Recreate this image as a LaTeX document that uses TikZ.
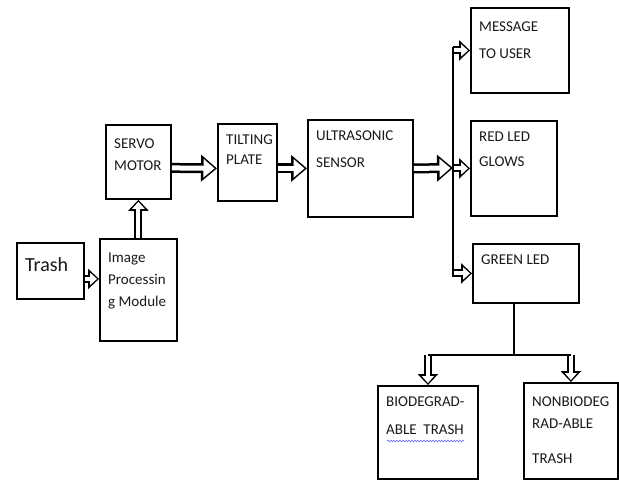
\documentclass[tikz,border=0pt]{standalone}
\usepackage{fontspec}
\setmainfont{Carlito}
\usetikzlibrary{arrows.meta,decorations.pathmorphing}
\begin{document}
\begin{tikzpicture}[x=1pt,y=-1pt,
  box/.style={draw,line width=1.8pt,anchor=north west,inner sep=0pt},
  lbl/.style={anchor=north west,align=left,inner sep=0pt,xshift=9pt,yshift=-12pt,
    font=\fontsize{15}{22}\selectfont,text=black!90},
  bigarrow/.style={white,line width=5pt,-{Triangle[length=11pt,width=18pt]},shorten >=2.5pt,
    preaction={draw=black,line width=10pt,-{Triangle[length=16pt,width=26pt]},shorten >=0pt}},
  smallarrow/.style={white,line width=4pt,-{Triangle[length=7pt,width=12pt]},shorten >=2pt,
    preaction={draw=black,line width=8pt,-{Triangle[length=11pt,width=20pt]},shorten >=0pt}}]
  \useasboundingbox (0,0) rectangle (619,480);
  \node[box,minimum width=67,minimum height=56,
    label={[lbl,font=\fontsize{20}{24}\selectfont,yshift=-3pt]north west:Trash}] (trash) at (16,242) {};
  \node[box,minimum width=77,minimum height=102,
    label={[lbl,yshift=-3pt]north west:{Image\\Processin\\g Module}}] (img) at (99,238) {};
  \node[box,minimum width=65,minimum height=74,
    label={[lbl,yshift=-3pt]north west:{SERVO\\MOTOR}}] (servo) at (105,124) {};
  \node[box,minimum width=59,minimum height=77,
    label={[lbl,font=\fontsize{15}{20}\selectfont]north west:{TILTING\\PLATE}}] (tilt) at (217,123) {};
  \node[box,minimum width=105,minimum height=97,
    label={[lbl,font=\fontsize{15}{27}\selectfont]north west:{ULTRASONIC\\SENSOR}}] (ultra) at (307,119) {};
  \node[box,minimum width=98,minimum height=85,
    label={[lbl,yshift=-3pt,font=\fontsize{15}{27}\selectfont]north west:{MESSAGE\\TO USER}}] (msg) at (470,7) {};
  \node[box,minimum width=86,minimum height=95,
    label={[lbl,font=\fontsize{15}{25}\selectfont]north west:{RED LED\\GLOWS}}] (red) at (470,120) {};
  \node[box,minimum width=106,minimum height=59,
    label={[lbl]north west:GREEN LED}] (green) at (472,243) {};
  \node[box,minimum width=100,minimum height=93,
    label={[lbl,font=\fontsize{15}{28}\selectfont]north west:{BIODEGRAD-\\ABLE\ \ TRASH}}] (bio) at (377,385) {};
  \node[box,minimum width=94,minimum height=96,
    label={[lbl,yshift=-3pt]north west:{NONBIODEG\\RAD-ABLE\\[13pt]TRASH}}] (nonbio) at (523,382) {};
  \draw[blue!60,line width=0.6pt,decorate,decoration={snake,amplitude=0.8pt,segment length=3pt}]
    (387,441) -- (464,441);
  \coordinate (jn) at (453,168);
  \coordinate (sp) at (514,355);
  \draw[smallarrow] ([yshift=-8pt]trash.east) -- ([yshift=-8pt]trash.east -| img.west);
  \draw[smallarrow] (img.north) -- (servo.south);
  \draw[bigarrow] ([yshift=-6pt]servo.east) -- ([yshift=-6pt]tilt.west);
  \draw[bigarrow] (tilt.east |- ultra.west) -- (ultra.west);
  \draw[bigarrow] (ultra.east) -- (jn);
  \foreach \b in {msg,red,green}
    \draw[smallarrow] (jn |- \b.west) -- (\b.west);
  \draw[line width=1.5pt] ([yshift=3pt]jn |- msg.west) -- ([yshift=-4pt]jn |- green.west);
  \foreach \b in {bio,nonbio}
    \draw[smallarrow] (sp -| \b.north) -- (\b.north);
  \draw[line width=1.5pt] (green.south -| sp) -- (sp);
  \draw[line width=2.5pt] (sp -| bio.north) -- (sp -| nonbio.north);
\end{tikzpicture}
\end{document}
